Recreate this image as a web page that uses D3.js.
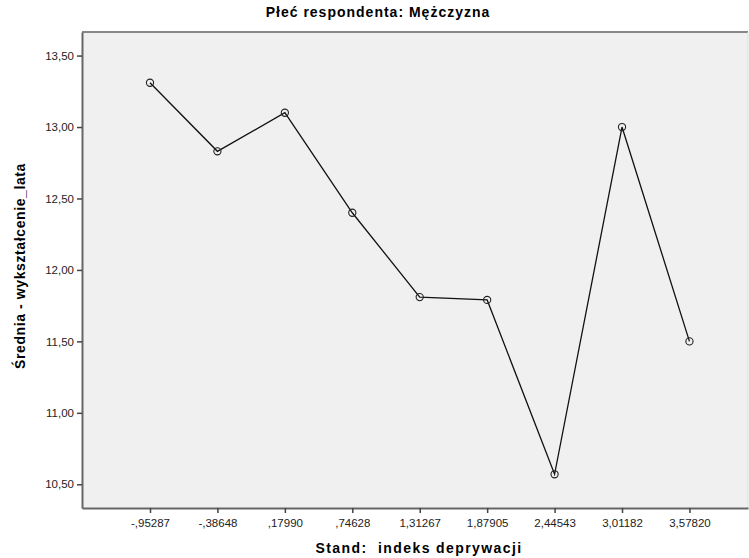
<!DOCTYPE html>
<html>
<head>
<meta charset="utf-8">
<script src="https://cdn.jsdelivr.net/npm/d3@7"></script>
<style>
  body { margin: 0; background: #fff; }
  svg { display: block; font-family: "Liberation Sans", Arial, sans-serif; }
</style>
</head>
<body>
<svg id="chart"></svg>
<script>
// data
const xValues = [-0.95287, -0.38648, 0.17990, 0.74628, 1.31267, 1.87905, 2.44543, 3.01182, 3.57820];
const xLabels = ["-,95287", "-,38648", ",17990", ",74628", "1,31267", "1,87905", "2,44543", "3,01182", "3,57820"];
const means = [13.31, 12.83, 13.10, 12.40, 11.81, 11.79, 10.57, 13.00, 11.50];
const yTicks = [10.5, 11.0, 11.5, 12.0, 12.5, 13.0, 13.5];

const width = 749, height = 558;
const margin = { top: 32, right: 1, bottom: 50, left: 82 };
const innerW = width - margin.left - margin.right;
const innerH = height - margin.top - margin.bottom;

const svg = d3.select("#chart").attr("width", width).attr("height", height);

const xScale = d3.scaleLinear().domain([-1.524, 4.07]).range([0, innerW]);
const yScale = d3.scaleLinear().domain([10.334, 13.665]).range([innerH, 0]);

const g = svg.append("g").attr("transform", `translate(${margin.left}, ${margin.top})`);

// plot background + frame
g.append("rect")
    .attr("width", innerW).attr("height", innerH)
    .attr("fill", "#f0f0f0");
g.append("line")
    .attr("x1", 0).attr("x2", innerW).attr("y1", 0).attr("y2", 0)
    .attr("stroke", "#888").attr("stroke-width", 2);
g.append("line")
    .attr("x1", innerW).attr("x2", innerW).attr("y1", 0).attr("y2", innerH)
    .attr("stroke", "#ddd").attr("stroke-width", 1);

const fmtY = d => d3.format(".2f")(d).replace(".", ",");

const yAxis = g.append("g")
    .call(d3.axisLeft(yScale).tickValues(yTicks).tickFormat(fmtY).tickSize(5).tickSizeOuter(0));
const xAxis = g.append("g")
    .attr("transform", `translate(0, ${innerH})`)
    .call(d3.axisBottom(xScale).tickValues(xValues).tickFormat((d, i) => xLabels[i]).tickSize(5).tickSizeOuter(0));

[xAxis, yAxis].forEach(ax => {
    ax.select(".domain").attr("stroke", "#666").attr("stroke-width", 2);
    ax.selectAll(".tick line").attr("stroke", "#444").attr("stroke-width", 1.5);
    ax.selectAll(".tick text")
        .attr("fill", "#222")
        .style("font-size", "11.5px")
        .style("font-family", "'Liberation Sans', Arial, sans-serif");
});
xAxis.selectAll(".tick text").attr("dy", "0.95em");

const pts = xValues.map((x, i) => ({ x, y: means[i] }));

const line = d3.line().x(d => xScale(d.x)).y(d => yScale(d.y));
g.append("path")
    .datum(pts)
    .attr("d", line)
    .attr("fill", "none")
    .attr("stroke", "#111")
    .attr("stroke-width", 1.3);

g.selectAll("circle.pt")
    .data(pts)
    .join("circle")
    .attr("class", "pt")
    .attr("cx", d => xScale(d.x))
    .attr("cy", d => yScale(d.y))
    .attr("r", 3.6)
    .attr("fill", "none")
    .attr("stroke", "#222")
    .attr("stroke-width", 1.1);

// titles
svg.append("text")
    .attr("x", 378).attr("y", 17)
    .attr("text-anchor", "middle")
    .style("font-size", "14px").style("font-weight", "bold")
    .style("letter-spacing", "1px")
    .text("Płeć respondenta: Mężczyzna");

svg.append("text")
    .attr("x", margin.left + innerW / 2 + 4).attr("y", 553)
    .attr("text-anchor", "middle")
    .style("font-size", "14px").style("font-weight", "bold")
    .style("letter-spacing", "1.4px")
    .style("white-space", "pre")
    .text("Stand:  indeks deprywacji");

svg.append("text")
    .attr("transform", `translate(25, ${margin.top + innerH / 2 - 4}) rotate(-90)`)
    .attr("text-anchor", "middle")
    .style("font-size", "14px").style("font-weight", "bold")
    .style("letter-spacing", "0.6px")
    .text("Średnia - wykształcenie_lata");
</script>
</body>
</html>
